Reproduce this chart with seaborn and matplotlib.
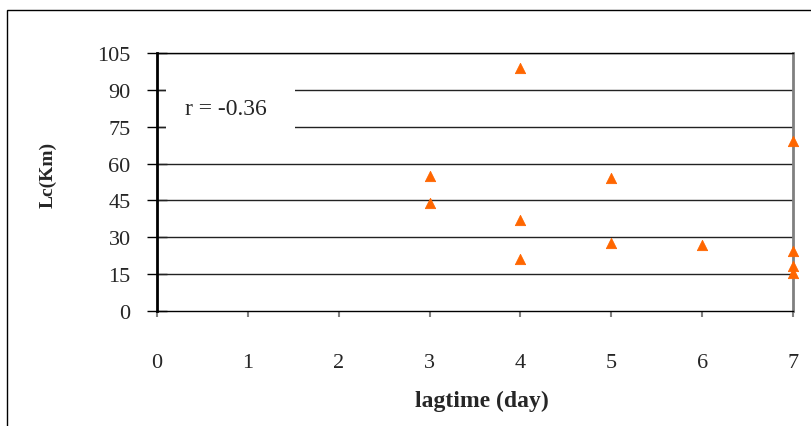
import matplotlib
matplotlib.use("Agg")
import pandas as pd
import seaborn as sns
import matplotlib.pyplot as plt
from matplotlib.patches import Rectangle

# values
lagtime = [3, 3, 4, 4, 4, 5, 5, 6, 7, 7, 7, 7]
lc_km = [55, 44, 99, 37, 21, 54, 27.5, 27, 69, 24.5, 18.5, 15.5]
x_ticks = [0, 1, 2, 3, 4, 5, 6, 7]
y_ticks = [0, 15, 30, 45, 60, 75, 90, 105]

df = pd.DataFrame({"lagtime": lagtime, "lc": lc_km})

sns.set_style("white")
plt.rcParams["font.family"] = ["Liberation Serif", "DejaVu Serif"]

fig = plt.figure(figsize=(8.12, 4.27), dpi=100)
# outer chart frame (only left and top edges visible)
fig.patches.append(Rectangle((7 / 812, -0.1), 1.2, 1 - 11 / 427 + 0.1,
                             transform=fig.transFigure, fill=False,
                             edgecolor="black", lw=1))

ax = fig.add_axes([157 / 812, 1 - 312 / 427, 636 / 812, 258 / 427])

for v in y_ticks[1:]:
    ax.axhline(v, color="#222222", lw=1, zorder=1)

sns.scatterplot(data=df, x="lagtime", y="lc", marker="^", color="#FF6600",
                edgecolor="#FF6600", s=55, ax=ax, zorder=3, clip_on=False)

ax.set_xlim(0, 7)
ax.set_ylim(0, 105)
ax.set_xticks(x_ticks)
ax.set_yticks(y_ticks)

ax.spines["left"].set_color("black")
ax.spines["left"].set_linewidth(2)
ax.spines["bottom"].set_color("black")
ax.spines["bottom"].set_linewidth(1)
ax.spines["right"].set_color("#808080")
ax.spines["right"].set_linewidth(2)
ax.spines["top"].set_color("black")
ax.spines["top"].set_linewidth(1)

ax.tick_params(axis="y", direction="inout", length=14, width=1, color="black",
               labelsize=16, pad=12, left=True)
ax.tick_params(axis="x", direction="out", length=4, width=1.5, color="#808080",
               labelsize=16, pad=26, bottom=True)

ax.set_xlabel("lagtime (day)", fontsize=17, fontweight="bold", va="center")
ax.xaxis.set_label_coords(0.511, -0.345)
ax.set_ylabel("Lc(Km)", fontsize=14, fontweight="bold")
ax.yaxis.set_label_coords(-0.158, 0.531)

# white box behind the correlation note, hiding the grid lines
ax.add_patch(Rectangle((0.099, 68), 1.42, 29, facecolor="white",
                       edgecolor="none", zorder=2))
ax.text(0.308, 82.6, "r = -0.36", fontsize=17, va="center", ha="left", zorder=4)

fig.savefig("out.png", dpi=100)
